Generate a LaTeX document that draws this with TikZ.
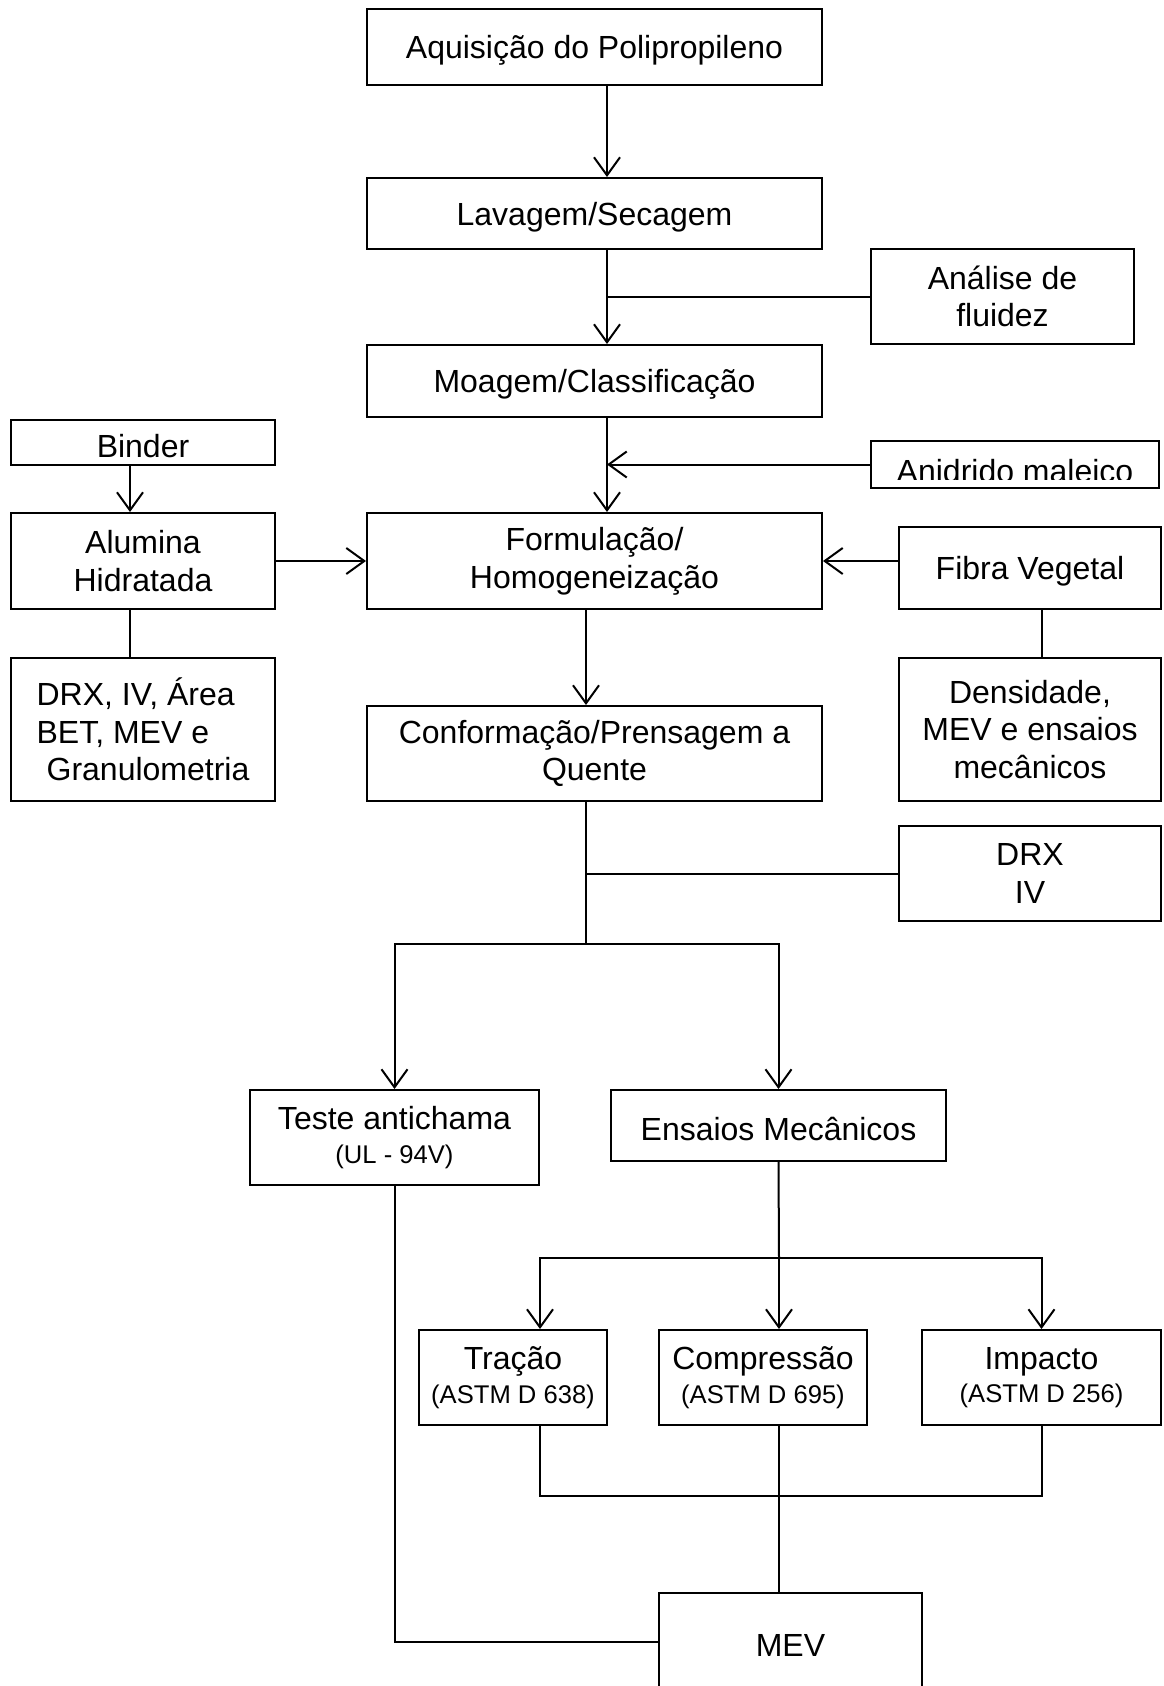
\documentclass[tikz,border=0pt]{standalone}
\usepackage{fontspec}
\setmainfont{Liberation Sans}
\usetikzlibrary{arrows.meta}
\newcommand{\mainsz}{\fontsize{16}{18.8}\selectfont}
\newcommand{\smallsz}{\fontsize{12.8}{15}\selectfont}

\begin{document}
\begin{tikzpicture}[x=0.5pt, y=-0.5pt, line width=1pt,
  box/.style={draw, line width=1pt, font=\mainsz, align=center, inner sep=0pt,
    execute at begin node={\rule{0pt}{15pt}}},
  arr/.style={-{Straight Barb[length=9pt,width=13pt]}}]

  \clip (0,0) rectangle (1163,1686);

  % Main column
  \node[box, minimum width=227.5pt, minimum height=38pt] (aquis) at (594.5,47) {Aquisição do Polipropileno};
  \node[box, minimum width=227.5pt, minimum height=35.5pt] (lavagem) at (594.5,213.5) {Lavagem/Secagem};
  \node[box, minimum width=227.5pt, minimum height=36pt] (moagem) at (594.5,381) {Moagem/Classificação};
  \node[box, minimum width=227.5pt, minimum height=48pt] (formul) at (594.5,561) {Formulação/\\Homogeneização};
  \node[box, minimum width=227.5pt, minimum height=47.5pt] (conform) at (594.5,753.5) {Conformação/Prensagem a\\Quente};

  % Side boxes
  \node[box, minimum width=131.5pt, minimum height=47.5pt] (analise) at (1002.5,296.5) {Análise de\\fluidez};
  \node[box, minimum width=144pt, minimum height=23.5pt] (anidrido) at (1015,464.5) {};
  \begin{scope}
    \clip (anidrido.north west) rectangle ([yshift=5pt]anidrido.south east);
    \node[font=\mainsz, inner sep=0pt] (anidridoTxt) at ([yshift=-3.5pt]anidrido.center) {Anidrido maleico};
  \end{scope}
  \node[box, minimum width=132pt, minimum height=22.5pt] (binder) at (143,442.5) {Binder};
  \node[box, minimum width=132pt, minimum height=48pt] (alumina) at (143,561) {Alumina\\Hidratada};
  \node[box, minimum width=132pt, minimum height=71.5pt, align=left] (drxA) at (143,729.5) {DRX, IV, Área\\BET, MEV e\\\hspace*{5pt}Granulometria};
  \node[box, minimum width=131pt, minimum height=41pt] (fibra) at (1030,568) {Fibra Vegetal};
  \node[box, minimum width=131pt, minimum height=71.5pt] (densid) at (1030,729.5) {Densidade,\\MEV e ensaios\\mecânicos};
  \node[box, minimum width=131pt, minimum height=47.5pt] (drxB) at (1030,873.5) {DRX\\IV};

  % Tests
  \node[box, minimum width=144.5pt, minimum height=47.5pt] (teste) at (394.5,1137.5) {Teste antichama\\[-2pt]{\smallsz (UL - 94V)}};
  \node[box, minimum width=167.5pt, minimum height=35.5pt] (ensaios) at (778.5,1125.5) {Ensaios Mecânicos};
  \node[box, minimum width=94pt, minimum height=47.5pt] (tracao) at (513,1377.5) {Tração\\[-2pt]{\smallsz (ASTM D 638)}};
  \node[box, minimum width=104pt, minimum height=47.5pt] (compr) at (763,1377.5) {Compressão\\[-2pt]{\smallsz (ASTM D 695)}};
  \node[box, minimum width=119.5pt, minimum height=47.5pt] (impacto) at (1041.5,1377.5) {Impacto\\[-2pt]{\smallsz (ASTM D 256)}};
  \node[box, minimum width=131.5pt, minimum height=48.5pt] (mev) at (790.5,1641.5) {MEV};

  % Line positions
  \coordinate (sp) at (607,0);
  \coordinate (lc) at (130,0);
  \coordinate (rc) at (1042,0);
  \coordinate (cc) at (586,0);
  \coordinate (tx) at (540,0);
  \coordinate (split1) at (586,944);
  \coordinate (split2) at (779,1258);
  \coordinate (join) at (779,1496);

  % Upper flow
  \draw[arr] (aquis.south -| sp) -- (lavagem.north -| sp);
  \draw[arr] (lavagem.south -| sp) -- (moagem.north -| sp);
  \draw (analise.west) -- (analise.west -| sp);
  \draw[arr] (moagem.south -| sp) -- (formul.north -| sp);
  \draw[arr] (anidrido.west) -- (anidrido.west -| sp);
  \draw[arr] (binder.south -| lc) -- (alumina.north -| lc);
  \draw[arr] (alumina.east) -- (formul.west);
  \draw[arr] (formul.east -| fibra.west) -- (formul.east);
  \draw (alumina.south -| lc) -- (drxA.north -| lc);
  \draw (fibra.south -| rc) -- (densid.north -| rc);
  \draw[arr] (formul.south -| cc) -- (conform.north -| cc);

  % Split after forming
  \draw (conform.south -| cc) -- (split1);
  \draw (drxB.west) -- (drxB.west -| cc);
  \draw[arr] (split1) -| (teste.north);
  \draw[arr] (split1) -| (ensaios.north);

  % Mechanical tests
  \draw (ensaios.south) -- (split2);
  \draw[arr] (split2) -| (tracao.north -| tx);
  \draw[arr] (split2) -- (compr.north -| split2);
  \draw[arr] (split2) -| (impacto.north);

  % To MEV
  \draw (tracao.south -| tx) |- (join);
  \draw (impacto.south) |- (join);
  \draw (compr.south -| join) -- (mev.north -| join);
  \draw (teste.south) |- (mev.west);
\end{tikzpicture}
\end{document}
